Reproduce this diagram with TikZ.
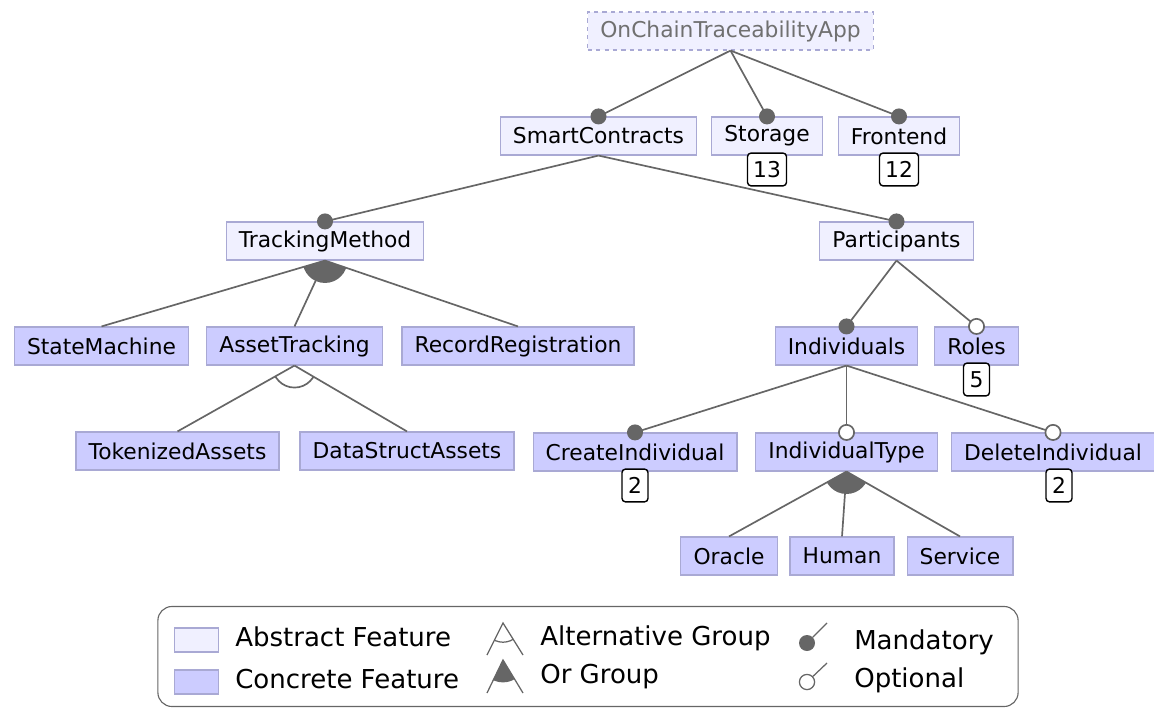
\documentclass[tikz,border=0pt]{standalone}
\usepackage{fontspec}
\setmainfont{DejaVu Sans}
\usetikzlibrary{positioning}
\definecolor{absfill}{HTML}{F0F0FF}
\definecolor{concfill}{HTML}{CCCCFF}
\definecolor{featborder}{HTML}{A9A9D4}
\definecolor{linegray}{HTML}{666666}
\definecolor{rootgray}{HTML}{707070}
\tikzset{line/.style={draw=linegray, line width=1.2pt}}

\begin{document}
\begin{tikzpicture}[x=0.025cm, y=-0.025cm, font=\fontsize{15.5}{18}\selectfont]
\tikzstyle{abstract} = [rectangle, draw=featborder, line width=0.8pt, fill=absfill, minimum height=0.95cm, inner xsep=9pt]
\tikzstyle{concrete} = [rectangle, draw=featborder, line width=0.8pt, fill=concfill, minimum height=0.95cm, inner xsep=9pt]
\tikzstyle{count} = [rectangle, rounded corners=2.5pt, draw, line width=1pt, fill=white, minimum width=0.65cm, minimum height=0.82cm, inner xsep=4pt]
\tikzstyle{mand} = [circle, fill=linegray, inner sep=0pt, minimum size=0.4cm]
\tikzstyle{opt} = [circle, draw=linegray, line width=1.2pt, fill=white, inner sep=0pt, minimum size=0.38cm]
\tikzstyle{legtext} = [anchor=west, inner sep=0pt, font=\fontsize{18.5}{22}\selectfont]

\useasboundingbox (0,0) rectangle (1154,708);

% features
\node [abstract, dashed, text=rootgray] (root) at (730.5,31) {OnChainTraceabilityApp};
\node [abstract] (smart) at (598.5,136) {SmartContracts};
\node [abstract] (storage) at (767,136) {Storage};
\node [abstract] (frontend) at (899,136) {Frontend};
\node [abstract] (tracking) at (325,241) {TrackingMethod};
\node [abstract] (partic) at (896.5,241) {Participants};
\node [concrete] (statem) at (101.5,346) {StateMachine};
\node [concrete] (asset) at (294.5,346) {AssetTracking};
\node [concrete] (record) at (518,346) {RecordRegistration};
\node [concrete] (indiv) at (846.5,346) {Individuals};
\node [concrete] (roles) at (976.5,346) {Roles};
\node [concrete] (token) at (177.5,451) {TokenizedAssets};
\node [concrete] (datastr) at (407,451) {DataStructAssets};
\node [concrete] (create) at (635,452) {CreateIndividual};
\node [concrete] (indtype) at (846.5,452) {IndividualType};
\node [concrete] (delind) at (1053,452) {DeleteIndividual};
\node [concrete] (oracle) at (729,556) {Oracle};
\node [concrete] (human) at (842,556) {Human};
\node [concrete] (service) at (960,556) {Service};

% edges
\draw [line] (root.south) -- (smart.north);
\draw [line] (root.south) -- (storage.north);
\draw [line] (root.south) -- (frontend.north);
\draw [line] (smart.south) -- (tracking.north);
\draw [line] (smart.south) -- (partic.north);
\draw [line] (tracking.south) -- (statem.north);
\draw [line] (tracking.south) -- (asset.north);
\draw [line] (tracking.south) -- (record.north);
\draw [line] (asset.south) -- (token.north);
\draw [line] (asset.south) -- (datastr.north);
\draw [line] (partic.south) -- (indiv.north);
\draw [line] (partic.south) -- (roles.north);
\draw [line] (indiv.south) -- (create.north);
\draw [line] (indiv.south) -- (indtype.north);
\draw [line] (indiv.south) -- (delind.north);
\draw [line] (indtype.south) -- (oracle.north);
\draw [line] (indtype.south) -- (human.north);
\draw [line] (indtype.south) -- (service.north);

% groups
\begin{scope}
\clip (tracking.south) -- (statem.north) -- (record.north) -- cycle;
\fill [linegray] (tracking.south) circle (0.56cm);
\end{scope}
\begin{scope}
\clip (asset.south) -- (token.north) -- (datastr.north) -- cycle;
\draw [line] (asset.south) circle (0.55cm);
\end{scope}
\begin{scope}
\clip (indtype.south) -- (oracle.north) -- (service.north) -- cycle;
\fill [linegray] (indtype.south) circle (0.56cm);
\end{scope}

% mandatory / optional
\node [mand] at (smart.north) {};
\node [mand] at (storage.north) {};
\node [mand] at (frontend.north) {};
\node [mand] at (tracking.north) {};
\node [mand] at (partic.north) {};
\node [mand] at (indiv.north) {};
\node [opt] at (roles.north) {};
\node [mand] at (create.north) {};
\node [opt] at (indtype.north) {};
\node [opt] at (delind.north) {};

% cardinalities
\node [count, below=-0.08cm of storage] (storagecnt) {13};
\node [count, below=-0.08cm of frontend] (frontendcnt) {12};
\node [count, below=-0.08cm of roles] (rolescnt) {5};
\node [count, below=-0.08cm of create] (createcnt) {2};
\node [count, below=-0.08cm of delind, xshift=0.15cm] (delindcnt) {2};

% legend
\node [rectangle, rounded corners=10pt, draw=linegray, line width=0.8pt, minimum width=21.5cm, minimum height=2.5cm] (legend) at (588,656.5) {};
\node [abstract, minimum width=1.1cm, minimum height=0.6cm, inner sep=0pt] (absswatch) at (196.5,640) {};
\node [concrete, minimum width=1.1cm, minimum height=0.6cm, inner sep=0pt] (concswatch) at (196.5,682) {};
\node [legtext] (abstxt) at (235,637) {Abstract Feature};
\node [legtext] (conctxt) at (235,679) {Concrete Feature};

\coordinate (altapex) at (503,623);
\coordinate (altleft) at (487,655);
\coordinate (altright) at (523,655);
\draw [draw=linegray, line width=0.9pt] (altleft) -- (altapex) -- (altright);
\begin{scope}
\clip (altapex) -- (altleft) -- (altright) -- cycle;
\draw [draw=linegray, line width=0.9pt] (altapex) circle (0.48cm);
\end{scope}
\coordinate (orapex) at (503,660);
\coordinate (orleft) at (487,693);
\coordinate (orright) at (523,693);
\draw [draw=linegray, line width=0.9pt] (orleft) -- (orapex) -- (orright);
\begin{scope}
\clip (orapex) -- (orleft) -- (orright) -- cycle;
\fill [linegray] (orapex) circle (0.56cm);
\end{scope}
\node [legtext] (alttxt) at (540,638) {Alternative Group};
\node [legtext] (ortxt) at (540,677) {Or Group};

\node [mand] (mandsym) at (807,643) {};
\coordinate (mandend) at (827,623);
\draw [draw=linegray, line width=0.9pt] (mandsym) -- (mandend);
\node [opt, line width=0.9pt] (optsym) at (807,682) {};
\coordinate (optend) at (827,663);
\draw [draw=linegray, line width=0.9pt] (optsym) -- (optend);
\node [legtext] (mandtxt) at (854,642) {Mandatory};
\node [legtext] (opttxt) at (854,680) {Optional};

\end{tikzpicture}
\end{document}
